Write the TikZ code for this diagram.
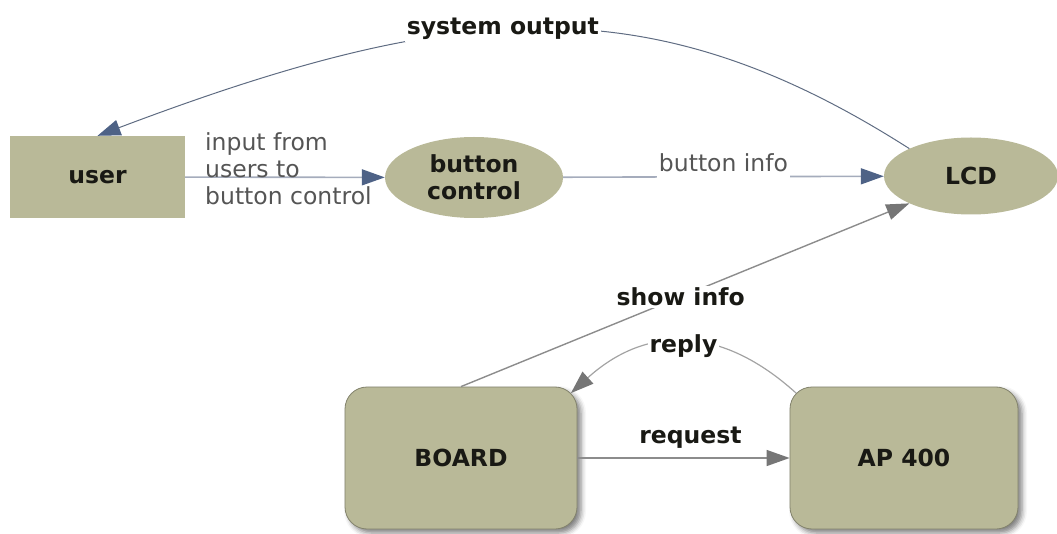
\documentclass[tikz,border=0pt]{standalone}
\usepackage{fontspec}
\setmainfont{DejaVu Sans}
\usetikzlibrary{arrows.meta,shapes.geometric,shadows.blur}

\definecolor{nodefill}{RGB}{185,185,152}
\definecolor{boxedge}{RGB}{130,130,108}
\definecolor{nodetext}{RGB}{25,25,20}
\definecolor{flowline}{RGB}{165,172,188}
\definecolor{flowhead}{RGB}{78,98,134}
\definecolor{outline}{RGB}{95,108,130}
\definecolor{greyline}{RGB}{140,140,140}
\definecolor{greyhead}{RGB}{118,118,118}
\definecolor{lbltext}{RGB}{85,85,85}

\begin{document}
\begin{tikzpicture}[x=1pt,y=-1pt,
  labelfont/.style={font=\fontsize{23.5}{27}\selectfont},
  entity/.style={fill=nodefill, text=nodetext, inner sep=0pt,
    font=\bfseries\fontsize{23.5}{27}\selectfont, align=center},
  proc/.style={entity, ellipse},
  store/.style={entity, rounded corners=22pt, draw=boxedge, line width=0.8pt,
    blur shadow={shadow xshift=4pt, shadow yshift=-4pt,
      shadow blur radius=5pt, shadow opacity=50}},
  blueflow/.style={draw=flowline, line width=1.6pt,
    -{Triangle[length=23pt,width=16pt,color=flowhead]}},
  darkflow/.style={draw=outline, line width=1pt,
    -{Triangle[length=23pt,width=16pt,color=flowhead]}},
  greyflow/.style={draw=greyline, line width=1.4pt,
    -{Triangle[length=23pt,width=16pt,color=greyhead]}},
  plainlbl/.style={labelfont, text=lbltext},
  boldlbl/.style={font=\bfseries\fontsize{23.5}{27}\selectfont, text=nodetext,
    fill=white, inner sep=2pt}]

\useasboundingbox (0,0) rectangle (1057,534);

% entities and processes
\node[entity, minimum width=175pt, minimum height=82pt] (user) at (97.5,177) {user};
\node[proc, minimum width=178pt, minimum height=81pt] (bc) at (474,177.5) {button\\control};
\node[proc, minimum width=174pt, minimum height=77pt] (lcd) at (971,176) {LCD};
\node[store, minimum width=232pt, minimum height=142pt] (board) at (461,458) {BOARD};
\node[store, minimum width=228pt, minimum height=142pt] (ap) at (904,458) {AP 400};

% user input
\draw[blueflow] (user) -- (bc);
\node[plainlbl, anchor=north west, inner sep=0pt, align=left] (inlbl) at (205,132)
  {input from\\users to\\button control};

% button info to the display
\draw[blueflow] (bc) -- node[pos=0.5, anchor=base, yshift=5pt, fill=white,
  text depth=4pt, inner sep=2pt, plainlbl] (bilbl) {button info} (lcd);

% output shown back to the user
\draw[darkflow] (lcd.north west) .. controls (650,-17) and (457,0) ..
  node[pos=0.55, anchor=base, yshift=-4pt, boldlbl] (solbl) {system output} (user.north);

% board drives the display
\draw[greyflow] (board.north) -- node[pos=0.49, boldlbl] (silbl) {show info} (lcd.south west);

% request / reply between board and AP 400
\draw[greyflow] (board) -- node[pos=0.5, anchor=base, yshift=15pt, xshift=7pt,
  boldlbl] (rqlbl) {request} (ap);
\draw[greyflow, line width=1.2pt, draw=greyline!80] ([shift={(6.5,6.5)}]ap.north west)
  .. controls (721,325) and (646,325) ..
  node[pos=0.5, yshift=-4pt, boldlbl] (rplbl) {reply}
  ([shift={(-6.5,6.5)}]board.north east);
\end{tikzpicture}
\end{document}
